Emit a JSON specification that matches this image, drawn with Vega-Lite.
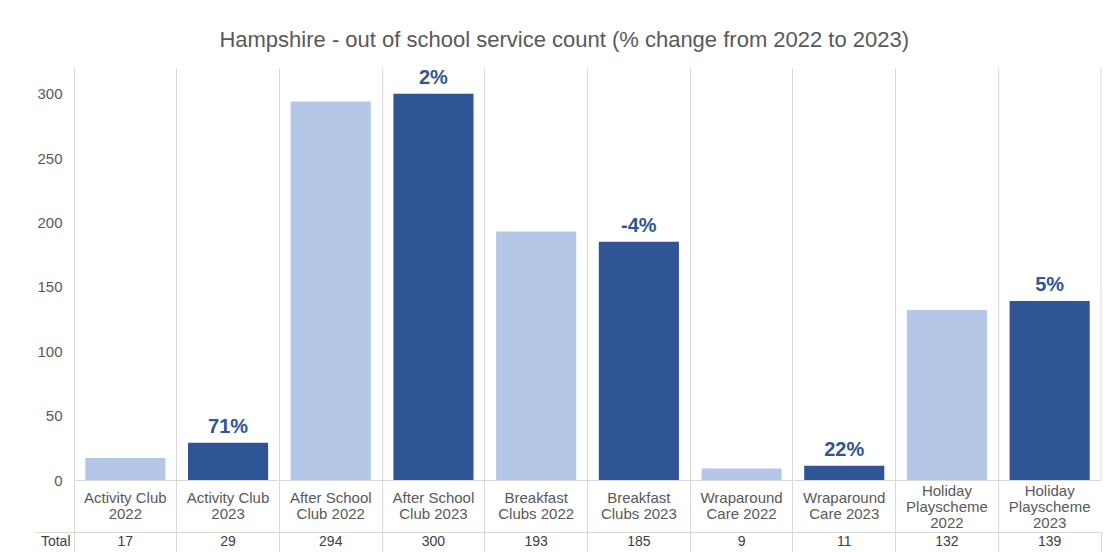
{
  "$schema": "https://vega.github.io/schema/vega-lite/v6.json",
  "padding": {"left": 35, "top": 28, "right": 6, "bottom": 0},
  "bounds": "flush",
  "spacing": 52,
  "title": {
    "text": "Hampshire - out of school service count (% change from 2022 to 2023)",
    "fontSize": 22,
    "font": "Liberation Sans",
    "fontWeight": "normal",
    "color": "#595959",
    "anchor": "middle",
    "offset": 16,
    "dx": -4
  },
  "config": {"font": "Liberation Sans", "view": {"stroke": null}},
  "datasets": {
    "d": [
      {"cat": "Activity Club|2022", "year": "2022", "value": 17, "pct": null, "row": "Total"},
      {"cat": "Activity Club|2023", "year": "2023", "value": 29, "pct": "71%", "row": "Total"},
      {"cat": "After School|Club 2022", "year": "2022", "value": 294, "pct": null, "row": "Total"},
      {"cat": "After School|Club 2023", "year": "2023", "value": 300, "pct": "2%", "row": "Total"},
      {"cat": "Breakfast|Clubs 2022", "year": "2022", "value": 193, "pct": null, "row": "Total"},
      {"cat": "Breakfast|Clubs 2023", "year": "2023", "value": 185, "pct": "-4%", "row": "Total"},
      {"cat": "Wraparound|Care 2022", "year": "2022", "value": 9, "pct": null, "row": "Total"},
      {"cat": "Wraparound|Care 2023", "year": "2023", "value": 11, "pct": "22%", "row": "Total"},
      {"cat": "Holiday|Playscheme|2022", "year": "2022", "value": 132, "pct": null, "row": "Total"},
      {"cat": "Holiday|Playscheme|2023", "year": "2023", "value": 139, "pct": "5%", "row": "Total"}
    ]
  },
  "vconcat": [
    {
      "width": 1027,
      "height": 412,
      "data": {"name": "d"},
      "encoding": {
        "x": {
          "field": "cat",
          "type": "nominal",
          "sort": null,
          "scale": {"type": "band", "paddingInner": 0, "paddingOuter": 0},
          "axis": {
            "title": null,
            "labelExpr": "split(datum.label, '|')",
            "labelAngle": 0,
            "labelBaseline": "middle",
            "labelLineHeight": 16,
            "labelFontSize": 15,
            "labelColor": "#595959",
            "labelPadding": {"condition": {"test": "indexof(datum.value, 'Holiday') >= 0", "value": -42}, "value": -35},
            "tickSize": 52,
            "tickColor": "#d9d9d9",
            "bandPosition": 0,
            "grid": true,
            "gridColor": "#d9d9d9",
            "domainColor": "#d9d9d9"
          }
        }
      },
      "layer": [
        {
          "mark": {"type": "bar", "width": {"band": 0.78}},
          "encoding": {
            "y": {
              "field": "value",
              "type": "quantitative",
              "scale": {"domain": [0, 320], "nice": false},
              "axis": {
                "title": null,
                "values": [0, 50, 100, 150, 200, 250, 300],
                "grid": false,
                "domain": false,
                "ticks": false,
                "labelFontSize": 15,
                "labelColor": "#595959",
                "labelPadding": 12
              }
            },
            "color": {
              "field": "year",
              "type": "nominal",
              "scale": {"domain": ["2022", "2023"], "range": ["#b4c7e7", "#2f5597"]},
              "legend": null
            }
          }
        },
        {
          "transform": [{"filter": "datum.pct != null"}],
          "mark": {"type": "text", "baseline": "alphabetic", "dy": -10, "fontSize": 20, "fontWeight": "bold", "color": "#2f5597"},
          "encoding": {
            "y": {"field": "value", "type": "quantitative"},
            "text": {"field": "pct", "type": "nominal"}
          }
        },
        {
          "transform": [{"filter": "datum.cat == 'Holiday|Playscheme|2023'"}],
          "mark": {"type": "rule", "color": "#d9d9d9"},
          "encoding": {
            "x": {"field": "cat", "type": "nominal", "sort": null, "bandPosition": 1}
          }
        }
      ]
    },
    {
      "width": 1027,
      "height": 20,
      "data": {"name": "d"},
      "view": {"stroke": "#d9d9d9"},
      "mark": {"type": "text", "fontSize": 14, "color": "#404040"},
      "encoding": {
        "x": {
          "field": "cat",
          "type": "nominal",
          "sort": null,
          "scale": {"type": "band", "paddingInner": 0, "paddingOuter": 0},
          "axis": {"title": null, "labels": false, "ticks": false, "domain": false, "grid": true, "gridColor": "#d9d9d9", "bandPosition": 0}
        },
        "y": {
          "field": "row",
          "type": "nominal",
          "scale": {"type": "band", "paddingInner": 0, "paddingOuter": 0},
          "axis": {"title": null, "domain": false, "ticks": true, "tickSize": 38, "tickColor": "#d9d9d9", "bandPosition": 0, "labelPadding": -34, "labelFontSize": 14, "labelColor": "#404040"}
        },
        "text": {"field": "value", "type": "quantitative"}
      }
    }
  ]
}
